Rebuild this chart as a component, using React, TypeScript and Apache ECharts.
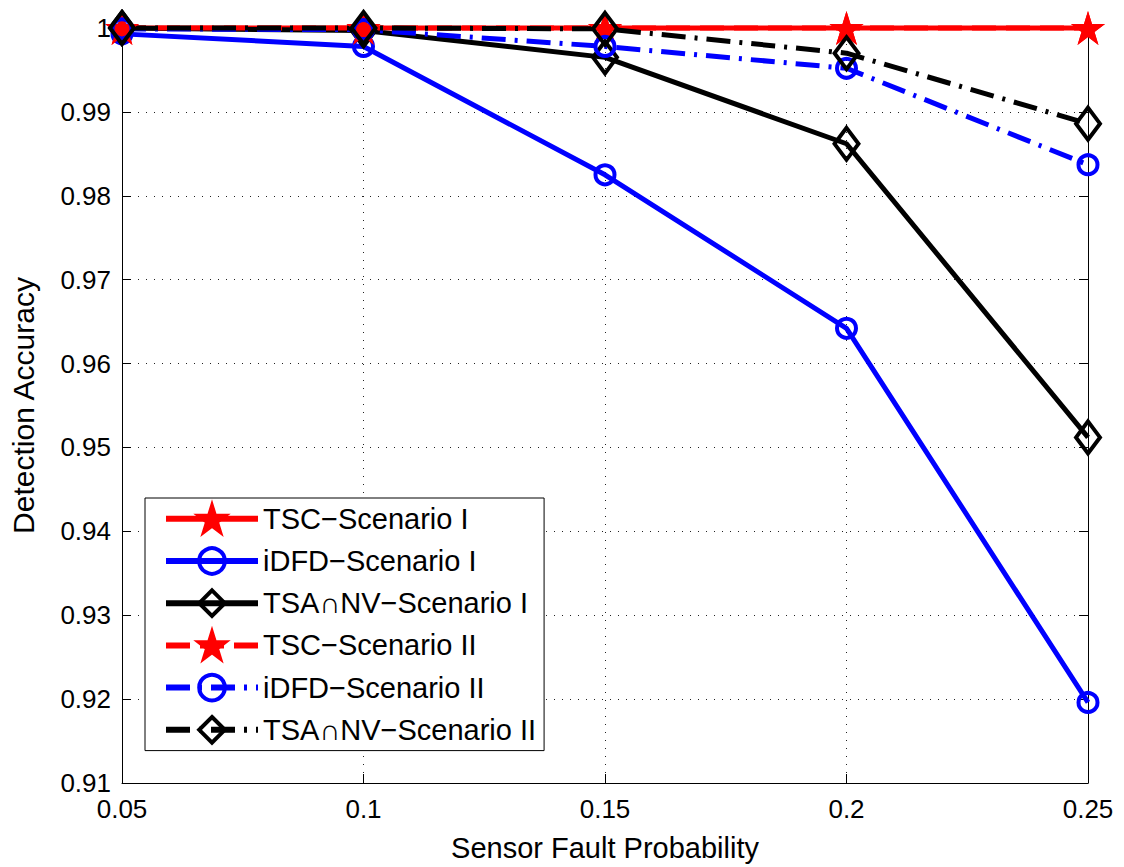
import React, { useEffect, useRef } from "react";
import * as echarts from "echarts";

const xValues = [0.05, 0.1, 0.15, 0.2, 0.25];
const tscI = [1, 1, 1, 1, 1];
const idfdI = [0.9993, 0.9978, 0.9825, 0.9642, 0.9196];
const tsaI = [1.0, 0.9997, 0.9965, 0.9862, 0.9512];
const tscII = [1, 1, 1, 1, 1];
const idfdII = [0.9999, 0.9998, 0.9978, 0.9952, 0.9837];
const tsaII = [1.0, 1.0, 0.9999, 0.997, 0.9886];
const seriesNames = [
  "TSC\u2212Scenario I",
  "iDFD\u2212Scenario I",
  "TSA\u2229NV\u2212Scenario I",
  "TSC\u2212Scenario II",
  "iDFD\u2212Scenario II",
  "TSA\u2229NV\u2212Scenario II",
];

const STAR =
  "path://M50,0 L61.2,34.5 L97.6,34.5 L68.2,55.9 L79.4,90.5 L50,69.1 L20.6,90.5 L31.8,55.9 L2.4,34.5 L38.8,34.5 Z";
const FONT = "Liberation Sans, Arial, sans-serif";
const dashDot = [24, 9, 3, 9];

function pairs(ys: number[]) {
  return xValues.map((x, i) => [x, ys[i]]);
}

export default function App() {
  const ref = useRef<HTMLDivElement>(null);
  useEffect(() => {
    if (!ref.current) return;
    const chart = echarts.init(ref.current, undefined, { renderer: "svg" });
    const mk = (
      name: string,
      ys: number[],
      color: string,
      symbol: string,
      size: number | number[],
      type: any,
      filled: boolean
    ) => ({
      name,
      type: "line",
      data: pairs(ys),
      symbol,
      symbolSize: size,
      clip: false,
      lineStyle: { color, width: 5, type },
      itemStyle: filled
        ? { color, borderColor: color, borderWidth: 0 }
        : { color: "rgba(255,255,255,0)", borderColor: color, borderWidth: 4 },
      emphasis: { disabled: true },
    });
    chart.setOption({
      animation: false,
      grid: { left: 121, right: 36, top: 28, bottom: 80 },
      legend: {
        orient: "vertical",
        left: 145,
        top: 498,
        itemWidth: 92,
        itemHeight: 32,
        itemGap: 12.6,
        padding: [6, 8, 6, 18],
        backgroundColor: "#fff",
        borderColor: "#000",
        borderWidth: 1,
        lineStyle: { width: 6 },
        itemStyle: { borderWidth: 4 },
        textStyle: { fontSize: 29, color: "#000", fontFamily: FONT },
        data: seriesNames,
      },
      xAxis: [
        {
          type: "value",
          min: 0.05,
          max: 0.25,
          interval: 0.05,
          name: "Sensor Fault Probability",
          nameLocation: "middle",
          nameGap: 50,
          nameTextStyle: { fontSize: 29, color: "#000", fontFamily: FONT },
          axisLine: { show: true, lineStyle: { color: "#000", width: 1 } },
          axisTick: { inside: true, length: 9, lineStyle: { color: "#000" } },
          axisLabel: {
            fontSize: 26,
            color: "#000",
            fontFamily: FONT,
            margin: 13,
            formatter: (v: number) => String(parseFloat(v.toFixed(2))),
          },
          splitLine: { show: true, lineStyle: { color: "#222", type: [1, 7], width: 1 } },
        },
        {
          type: "value",
          position: "top",
          min: 0.05,
          max: 0.25,
          interval: 0.05,
          axisLine: { show: true, lineStyle: { color: "#000", width: 1 } },
          axisTick: { inside: true, length: 9, lineStyle: { color: "#000" } },
          axisLabel: { show: false },
          splitLine: { show: false },
        },
      ],
      yAxis: [
        {
          type: "value",
          min: 0.91,
          max: 1,
          interval: 0.01,
          name: "Detection Accuracy",
          nameLocation: "middle",
          nameGap: 84,
          nameTextStyle: { fontSize: 30, color: "#000", fontFamily: FONT },
          axisLine: { show: true, lineStyle: { color: "#000", width: 1 } },
          axisTick: { inside: true, length: 9, lineStyle: { color: "#000" } },
          axisLabel: {
            fontSize: 26,
            color: "#000",
            fontFamily: FONT,
            margin: 11,
            formatter: (v: number) => String(parseFloat(v.toFixed(2))),
          },
          splitLine: { show: true, lineStyle: { color: "#222", type: [1, 7], width: 1 } },
        },
        {
          type: "value",
          position: "right",
          min: 0.91,
          max: 1,
          interval: 0.01,
          axisLine: { show: true, lineStyle: { color: "#000", width: 1 } },
          axisTick: { inside: true, length: 9, lineStyle: { color: "#000" } },
          axisLabel: { show: false },
          splitLine: { show: false },
        },
      ],
      series: [
        mk(seriesNames[0], tscI, "#ff0000", STAR, [34, 34], "solid", true),
        mk(seriesNames[1], idfdI, "#0000ff", "circle", 19, "solid", false),
        mk(seriesNames[2], tsaI, "#000000", "diamond", [24, 32], "solid", false),
        mk(seriesNames[3], tscII, "#ff0000", STAR, [34, 34], [24, 10], true),
        mk(seriesNames[4], idfdII, "#0000ff", "circle", 19, dashDot, false),
        mk(seriesNames[5], tsaII, "#000000", "diamond", [24, 32], dashDot, false),
      ],
    });
    return () => chart.dispose();
  }, []);
  return (
    <div
      ref={ref}
      style={{ position: "absolute", left: 0, top: 0, width: 1124, height: 867, background: "#fff" }}
    />
  );
}
